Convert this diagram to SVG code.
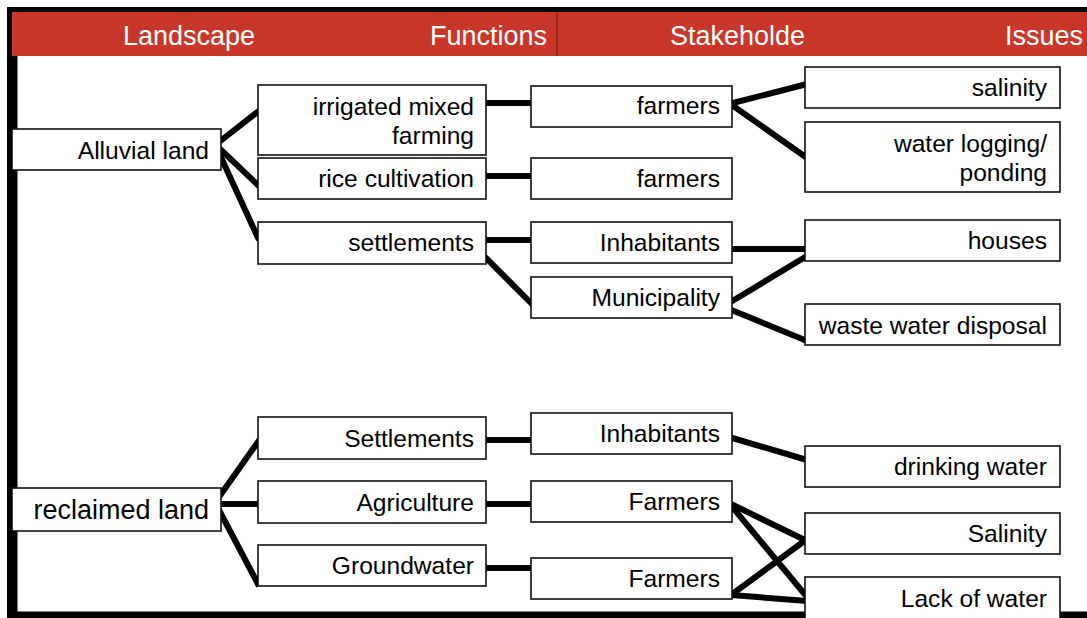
<svg xmlns="http://www.w3.org/2000/svg" width="1087" height="618" viewBox="0 0 1087 618">
<style>
.box{fill:#fff;stroke:#111;stroke-width:1.6}
.t{font-family:"Liberation Sans",Arial,sans-serif;font-size:24.6px;fill:#000;text-anchor:end}
.h{font-family:"Liberation Sans",Arial,sans-serif;font-size:27px;fill:#fff;text-anchor:end}
.c{stroke:#000;stroke-width:6;fill:none;stroke-linecap:butt}
</style>
<rect width="1087" height="618" fill="#fff"/>
<g id="frame">
<rect x="7" y="7" width="1090" height="620" fill="#000"/>
<rect x="17.5" y="12" width="1080" height="599.5" fill="#fff"/>
<rect x="12" y="12" width="1080" height="44" fill="#C9372A"/>
<line x1="557" y1="12" x2="557" y2="56" stroke="#5a1a12" stroke-width="1"/>
<text class="h" x="255" y="45">Landscape</text>
<text class="h" x="547" y="45">Functions</text>
<text class="h" x="805" y="45">Stakeholde</text>
<text class="h" x="1083" y="45">Issues</text>
</g>
<g id="connectors" class="c">
<line x1="219" y1="142" x2="260" y2="110"/>
<line x1="219" y1="148" x2="260" y2="187"/>
<line x1="219" y1="153" x2="259" y2="240"/>
<line x1="484" y1="103" x2="533" y2="103"/>
<line x1="484" y1="176" x2="533" y2="176"/>
<line x1="484" y1="240" x2="533" y2="240"/>
<line x1="484" y1="256" x2="533" y2="305"/>
<line x1="729" y1="104" x2="807" y2="84"/>
<line x1="729" y1="103" x2="807" y2="158"/>
<line x1="730" y1="249" x2="807" y2="249"/>
<line x1="729" y1="303" x2="807" y2="256"/>
<line x1="729" y1="309" x2="807" y2="341"/>
<line x1="219" y1="497" x2="260" y2="439"/>
<line x1="219" y1="504" x2="260" y2="504"/>
<line x1="219" y1="510" x2="259" y2="586"/>
<line x1="484" y1="440" x2="533" y2="440"/>
<line x1="484" y1="504" x2="533" y2="504"/>
<line x1="484" y1="568" x2="533" y2="568"/>
<line x1="729" y1="437" x2="807" y2="460"/>
<line x1="729" y1="503" x2="807" y2="541"/>
<line x1="729" y1="503" x2="807" y2="597"/>
<line x1="731" y1="595" x2="807" y2="539"/>
<line x1="731" y1="595" x2="807" y2="601"/>
</g>
<g id="n-alluvial"><rect class="box" x="12" y="129" width="209" height="41"/><text class="t" x="209" y="159">Alluvial land</text></g>
<g id="n-irrigated"><rect class="box" x="258" y="85" width="228" height="70"/><text class="t" x="474" y="115">irrigated mixed</text><text class="t" x="474" y="144">farming</text></g>
<g id="n-rice"><rect class="box" x="258" y="158" width="228" height="41"/><text class="t" x="474" y="187">rice cultivation</text></g>
<g id="n-settlements"><rect class="box" x="258" y="222" width="228" height="42"/><text class="t" x="474" y="251">settlements</text></g>
<g id="n-farmers1"><rect class="box" x="531" y="86" width="201" height="41"/><text class="t" x="720" y="114">farmers</text></g>
<g id="n-farmers2"><rect class="box" x="531" y="158" width="201" height="41"/><text class="t" x="720" y="187">farmers</text></g>
<g id="n-inhabitants1"><rect class="box" x="531" y="222" width="201" height="41"/><text class="t" x="720" y="251">Inhabitants</text></g>
<g id="n-municipality"><rect class="box" x="531" y="277" width="201" height="41"/><text class="t" x="720" y="306">Municipality</text></g>
<g id="n-salinity1"><rect class="box" x="805" y="67" width="255" height="41"/><text class="t" x="1047" y="96">salinity</text></g>
<g id="n-waterlogging"><rect class="box" x="805" y="122" width="255" height="70"/><text class="t" x="1047" y="152">water logging/</text><text class="t" x="1047" y="181">ponding</text></g>
<g id="n-houses"><rect class="box" x="805" y="220" width="255" height="41"/><text class="t" x="1047" y="249">houses</text></g>
<g id="n-wastewater"><rect class="box" x="805" y="304" width="255" height="41"/><text class="t" x="1047" y="334">waste water disposal</text></g>
<g id="n-reclaimed"><rect class="box" x="12" y="488" width="209" height="43"/><text class="t" x="209" y="519" style="font-size:27px">reclaimed land</text></g>
<g id="n-settlements2"><rect class="box" x="258" y="417" width="228" height="42"/><text class="t" x="474" y="447">Settlements</text></g>
<g id="n-agriculture"><rect class="box" x="258" y="481" width="228" height="42"/><text class="t" x="474" y="511">Agriculture</text></g>
<g id="n-groundwater"><rect class="box" x="258" y="545" width="228" height="41"/><text class="t" x="474" y="574">Groundwater</text></g>
<g id="n-inhabitants2"><rect class="box" x="531" y="413" width="201" height="41"/><text class="t" x="720" y="442">Inhabitants</text></g>
<g id="n-farmers3"><rect class="box" x="531" y="481" width="201" height="41"/><text class="t" x="720" y="510">Farmers</text></g>
<g id="n-farmers4"><rect class="box" x="531" y="558" width="201" height="41"/><text class="t" x="720" y="587">Farmers</text></g>
<g id="n-drinking"><rect class="box" x="805" y="446" width="255" height="41"/><text class="t" x="1047" y="475">drinking water</text></g>
<g id="n-salinity2"><rect class="box" x="805" y="513" width="255" height="41"/><text class="t" x="1047" y="542">Salinity</text></g>
<g id="n-lackwater"><rect class="box" x="805" y="577" width="255" height="60"/><text class="t" x="1047" y="607">Lack of water</text></g>
</svg>
